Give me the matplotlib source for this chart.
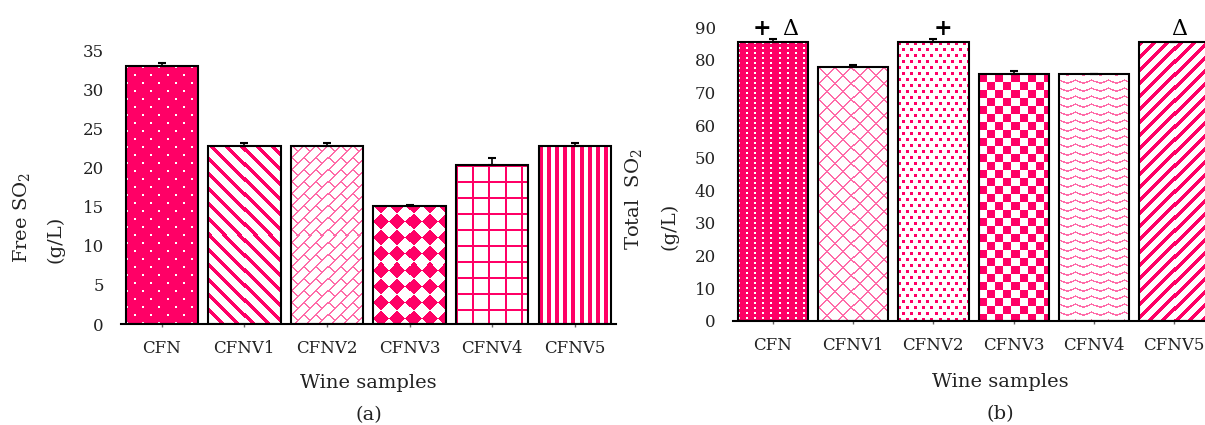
import matplotlib.pyplot as plt
import numpy as np

plt.rcParams["font.family"] = "DejaVu Serif"
plt.rcParams["mathtext.fontset"] = "dejavuserif"

samples = ["CFN", "CFNV1", "CFNV2", "CFNV3", "CFNV4", "CFNV5"]
free_so2 = [32.9, 22.8, 22.8, 15.1, 20.3, 22.8]
free_err = [0.5, 0.35, 0.35, 0.15, 0.9, 0.3]
total_so2 = [85.5, 77.9, 85.5, 75.7, 75.7, 85.5]
total_err = [1.0, 0.5, 1.0, 1.0, 0.0, 0.0]
# significance marks on panel (b): (sample index, x offset, symbol)
marks = [(0, -0.14, "+"), (0, 0.22, "Δ"), (2, 0.12, "+"), (5, 0.06, "Δ")]

free_fill = ["dots", "back", "brick", "diamond", "grid", "vstripe"]
total_fill = ["vdots", "lattice", "confetti", "checker", "wave", "fwd"]

PINK = np.array([1.0, 0.0, 0.4])
LIGHT = np.array([1.0, 0.42, 0.66])


def pattern(name, h, w):
    # pixel mask of the fill pattern, True where the pattern colour goes
    y, x = np.mgrid[0:h, 0:w]
    u, v = x + y, x - y
    if name == "dots":
        return ~((y % 8 < 2) & ((x + 8 * ((y // 8) % 2)) % 16 < 2)), PINK
    if name == "back":
        return v % 15 < 5, PINK
    if name == "brick":
        return (u % 12 < 2) | ((v + 12 * ((u // 12) % 2)) % 24 < 2), LIGHT
    if name == "diamond":
        return (u // 16 + v // 16) % 2 == 0, PINK
    if name == "grid":
        return (x % 16 < 2) | (y % 16 < 2), PINK
    if name == "vstripe":
        return x % 8 < 4, PINK
    if name == "vdots":
        return ~((x % 8 < 2) & (y % 5 < 2)), PINK
    if name == "lattice":
        return (u % 16 < 2) | (v % 16 < 2), LIGHT
    if name == "confetti":
        return (y % 6 < 3) & ((x + 4 * ((y // 6) % 2)) % 8 < 3), PINK
    if name == "checker":
        return (x // 8 + y // 8) % 2 == 0, PINK
    if name == "wave":
        tri = np.abs((x % 16) / 8.0 - 1) * 3
        return (y + tri) % 8 < 1.6, LIGHT
    return u % 13 < 5, PINK


def fill_bars(ax, bars, names):
    for bar, name in zip(bars, names):
        x0, w, h = bar.get_x(), bar.get_width(), bar.get_height()
        (px0, py0), (px1, py1) = ax.transData.transform([(x0, 0), (x0 + w, h)])
        W, H = max(int(round(px1 - px0)), 1), max(int(round(py1 - py0)), 1)
        m, c = pattern(name, H, W)
        img = np.ones((H, W, 3))
        img[m] = c
        ax.imshow(img, extent=(x0, x0 + w, 0, h), aspect="auto",
                  interpolation="nearest", zorder=1)


def panel(ax, vals, err, fills, ymax, step):
    pos = np.arange(len(samples))
    ax.set_xlim(-0.5, len(samples) - 0.5)
    ax.set_ylim(0, ymax)
    bars = ax.bar(pos, vals, width=0.875, color="none", edgecolor="black",
                  linewidth=1.5, zorder=3,
                  yerr=[np.zeros(len(vals)), err],
                  error_kw=dict(ecolor="black", elinewidth=1.2, capsize=3, capthick=1.5, zorder=4))
    fill_bars(ax, bars, fills)
    ax.set_xlim(-0.5, len(samples) - 0.5)
    ax.set_ylim(0, ymax)
    ax.set_xticks(pos)
    ax.set_xticklabels(samples)
    ax.set_yticks(np.arange(0, ymax + 1, step))
    for s in ["left", "top", "right"]:
        ax.spines[s].set_visible(False)
    ax.spines["bottom"].set_linewidth(1.5)
    ax.tick_params(axis="y", length=0, pad=12, labelsize=12, labelcolor="#222222")
    ax.tick_params(axis="x", length=2.5, width=1, color="#666666", pad=9,
                   labelsize=12, labelcolor="#222222")


fig = plt.figure(figsize=(12.05, 4.25), dpi=100)
ax1 = fig.add_axes([0.1, 0.2376, 0.4112, 0.6447])
ax2 = fig.add_axes([0.608, 0.2454, 0.3998, 0.6904])

panel(ax1, free_so2, free_err, free_fill, 35, 5)
panel(ax2, total_so2, total_err, total_fill, 90, 10)

for i, dx, s in marks:
    ax2.text(i + dx, 89.6, s, ha="center", va="center", fontsize=16,
             fontweight="bold" if s == "+" else "normal", clip_on=False)

fig.text(0.031, 0.381, "Free SO$_2$\n(g/L)", rotation=90, ha="center", va="bottom",
         multialignment="left", linespacing=2.0, fontsize=14, color="#222222")
fig.text(0.540, 0.412, "Total  SO$_2$\n(g/L)", rotation=90, ha="center", va="bottom",
         multialignment="left", linespacing=2.2, fontsize=14, color="#222222")

fig.text(0.306, 0.099, "Wine samples", ha="center", va="center", fontsize=14, color="#222222")
fig.text(0.306, 0.024, "(a)", ha="center", va="center", fontsize=14, color="#222222")
fig.text(0.830, 0.102, "Wine samples", ha="center", va="center", fontsize=14, color="#222222")
fig.text(0.830, 0.026, "(b)", ha="center", va="center", fontsize=14, color="#222222")

fig.savefig("out.png", dpi=100)
